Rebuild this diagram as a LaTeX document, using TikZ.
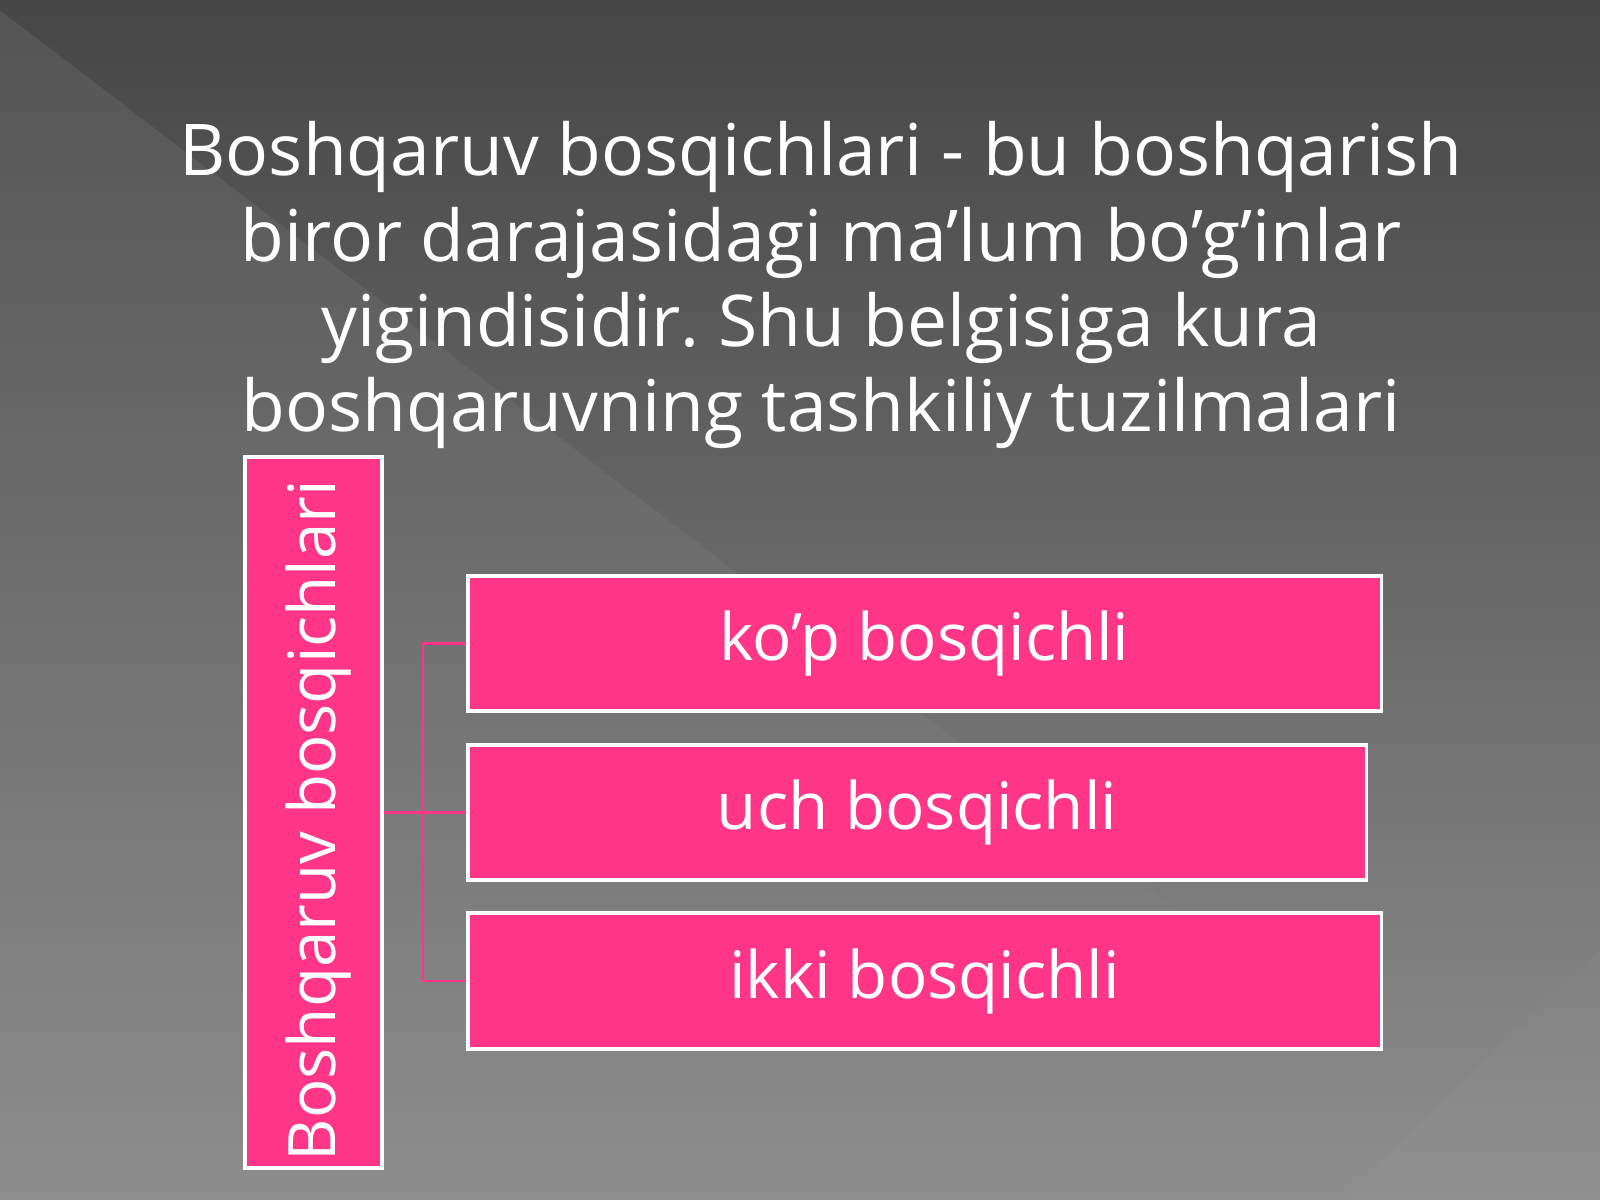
\documentclass[tikz,border=0pt]{standalone}
\usepackage{fontspec}
\setmainfont{Open Sans}
\usetikzlibrary{fadings}
\frenchspacing
\definecolor{slidepink}{RGB}{255,53,135}
\definecolor{slidetop}{RGB}{70,70,70}
\definecolor{slidebottom}{RGB}{142,142,142}
\tikzfading[name=fadedown, top color=transparent!0, bottom color=transparent!100]
\begin{document}
\begin{tikzpicture}[x=0.01cm, y=-0.01cm,
  heading/.style={text=white, inner sep=0pt, align=center, font=\fontsize{20.3pt}{24.2pt}\selectfont},
  stagebox/.style={draw=white, line width=1pt, fill=slidepink, text=white, inner sep=0pt, font=\fontsize{18.6pt}{22pt}\selectfont},
  link/.style={draw=slidepink, line width=0.7pt}]
% background
\fill[top color=slidetop, bottom color=slidebottom] (0,0) rectangle (1600,1200);
\fill[white, opacity=0.08, path fading=fadedown] (0,10) -- (1560,1200) -- (0,1200) -- cycle;
\fill[white, opacity=0.025] (1600,950) -- (1340,1200) -- (1600,1200) -- cycle;

\node[heading, anchor=north] (title) at (821,121) {Boshqaruv bosqichlari - bu boshqarish\\biror darajasidagi ma’lum bo’g’inlar\\yigindisidir. Shu belgisiga kura\\boshqaruvning tashkiliy tuzilmalari};

\node[stagebox, minimum width=1.37cm, minimum height=7.11cm] (levels) at (313.5,812.5)
  {\rotatebox{90}{\raisebox{-0.05cm}[\height][\depth]{Boshqaruv bosqichlari}\kern0.16cm}};

\node[stagebox, minimum width=9.13cm, minimum height=1.35cm] (many) at (924.5,643.5) {ko’p bosqichli};
\node[stagebox, minimum width=8.98cm, minimum height=1.35cm] (three) at (917,812.5) {uch bosqichli};
\node[stagebox, minimum width=9.13cm, minimum height=1.36cm] (two) at (924.5,981) {ikki bosqichli};

\draw[link] (levels.east) -- (three.west);
\draw[link] (many.west) -- ++(-43,0) |- (two.west);
\end{tikzpicture}
\end{document}
